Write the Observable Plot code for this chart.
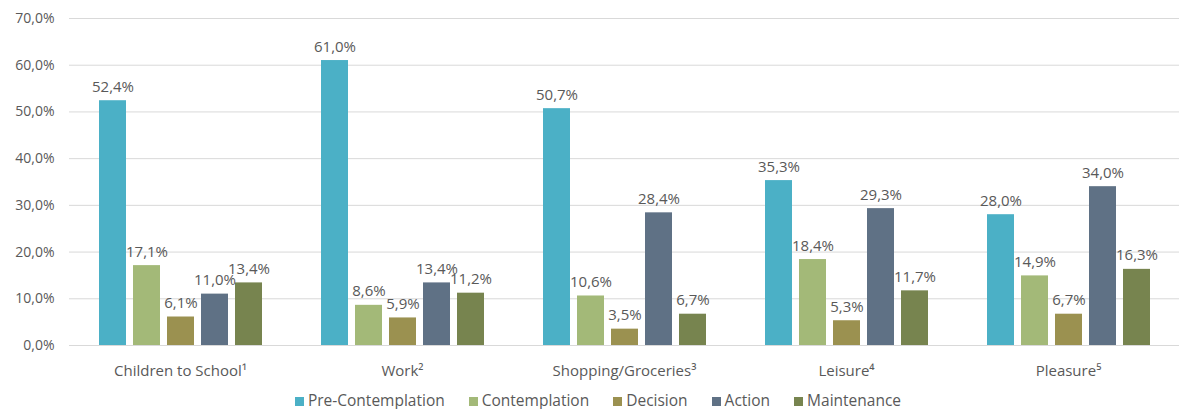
<!DOCTYPE html>
<html><head><meta charset="utf-8">
<script src="https://cdn.jsdelivr.net/npm/d3@7"></script>
<script src="https://cdn.jsdelivr.net/npm/@observablehq/plot@0.6"></script>
<style>
body{margin:0;background:#fff;font-family:"Open Sans","Liberation Sans",sans-serif;}
#legend{display:flex;justify-content:center;gap:24px;font-size:15.5px;color:#595959;margin-top:0;padding-left:12px;line-height:20px;}
#legend span.sw{display:inline-block;width:9px;height:9px;margin-right:4px;vertical-align:0px;}
</style></head>
<body><div id="chart"></div><div id="legend"></div>
<script>
const categories = ["Children to School¹", "Work²", "Shopping/Groceries³", "Leisure⁴", "Pleasure⁵"];
const series = ["Pre-Contemplation", "Contemplation", "Decision", "Action", "Maintenance"];
const colors = ["#4bb0c6", "#a3b978", "#9b9150", "#5f7185", "#77844f"];
const preContemplation = [52.4, 61.0, 50.7, 35.3, 28.0];
const contemplation = [17.1, 8.6, 10.6, 18.4, 14.9];
const decision = [6.1, 5.9, 3.5, 5.3, 6.7];
const action = [11.0, 13.4, 28.4, 29.3, 34.0];
const maintenance = [13.4, 11.2, 6.7, 11.7, 16.3];
const yTicks = [0, 10, 20, 30, 40, 50, 60, 70];

const seriesValues = [preContemplation, contemplation, decision, action, maintenance];
const data = [];
categories.forEach((c, i) => series.forEach((s, j) => data.push({category: c, series: s, value: seriesValues[j][i]})));
const fmt = v => v.toFixed(1).replace(".", ",") + "%";

const chart = Plot.plot({
  width: 1184,
  height: 390,
  marginLeft: 67,
  marginRight: 4,
  marginTop: 18,
  marginBottom: 45,
  style: {fontFamily: "'Open Sans','Liberation Sans',sans-serif", fontSize: "14px", color: "#595959", background: "#fff"},
  fx: {domain: categories, padding: 0, label: null},
  x: {domain: series, paddingInner: 0.22, paddingOuter: 0.83, axis: null},
  y: {domain: [0, 70], ticks: yTicks, label: null},
  color: {domain: series, range: colors},
  marks: [
    Plot.gridY(yTicks, {stroke: "#d9d9d9", strokeOpacity: 1}),
    Plot.axisY(yTicks, {tickSize: 0, tickPadding: 15, tickFormat: fmt, fontSize: 14, fill: "#595959", label: null}),
    Plot.axisFx({anchor: "bottom", tickSize: 0, tickPadding: 20, fontSize: 15, fill: "#595959", label: null}),
    Plot.barY(data, {fx: "category", x: "series", y: "value", fill: "series"}),
    Plot.text(data, {fx: "category", x: "series", y: "value", text: d => fmt(d.value), lineAnchor: "bottom", dy: -9, fontSize: 15, fill: "#595959"})
  ]
});
document.getElementById("chart").appendChild(chart);
const leg = document.getElementById("legend");
series.forEach((s, i) => {
  const d = document.createElement("div");
  d.innerHTML = `<span class="sw" style="background:${colors[i]}"></span>${s}`;
  leg.appendChild(d);
});
</script></body></html>
